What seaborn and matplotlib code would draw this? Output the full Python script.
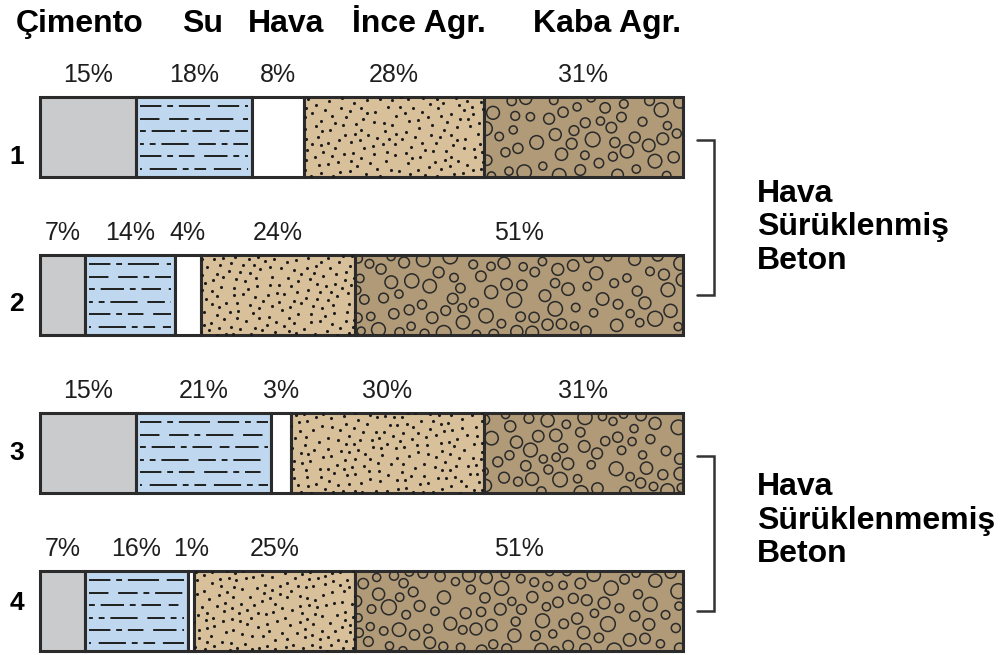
import numpy as np
import pandas as pd
import matplotlib
matplotlib.use("Agg")
import matplotlib.pyplot as plt
import seaborn as sns

# Mix proportions (% by volume) for four concrete mixes
rows = ["1", "2", "3", "4"]
components = ["Çimento", "Su", "Hava", "İnce Agr.", "Kaba Agr."]
cement = [15, 7, 15, 7]
water = [18, 14, 21, 16]
air = [8, 4, 3, 1]
fine_agg = [28, 24, 30, 25]
coarse_agg = [31, 51, 31, 51]
group_labels = ["Hava\nSürüklenmiş\nBeton", "Hava\nSürüklenmemiş\nBeton"]
group_rows = [(0, 1), (2, 3)]

sns.set_theme(style="white")
plt.rcParams["font.family"] = ["Liberation Sans", "DejaVu Sans"]

colors = ["#cacbcc", "#bfd8ef", "#ffffff", "#d8c09b", "#b09a77"]
edge = "#2b2b2b"
ink = "#1e1e1e"

series = [cement, water, air, fine_agg, coarse_agg]
df = pd.DataFrame({"row": rows, **{c: v for c, v in zip(components, series)}})

# scale: pixels per data unit on each axis
PX_X = 6.43
PX_Y = 158.0
ROW0 = 137.0

fig = plt.figure(figsize=(10, 6.55), dpi=100)
ax = fig.add_axes([0, 0, 1, 1])

bar_h = 0.506
left = np.zeros(len(rows))
for comp, col in zip(components, colors):
    sns.barplot(data=df, x=comp, y="row", orient="h", left=left.copy(),
                color=col, saturation=1, width=bar_h, edgecolor=edge,
                linewidth=2.2, ax=ax)
    left += df[comp].to_numpy()

fine_bars = ax.containers[3]
coarse_bars = ax.containers[4]


def halton(n, base, start=1):
    out = np.empty(n)
    for k in range(n):
        i, f, r = k + start, 1.0, 0.0
        while i > 0:
            f /= base
            r += f * (i % base)
            i //= base
        out[k] = r
    return out


def spaced_texture(patch, px_per_point, start, dmin, dmax, gap):
    """Low-discrepancy points inside a bar, thinned so marks do not touch."""
    x0, y0 = patch.get_x(), patch.get_y()
    w, h = patch.get_width(), patch.get_height()
    wp, hp = w * PX_X, h * PX_Y
    target = int(round(wp * hp / px_per_point))
    n = target * 6
    u, v, s = halton(n, 2, start), halton(n, 3, start), halton(n, 5, start)
    px, py = u * wp, v * hp
    d = dmin + (dmax - dmin) * s ** 1.4
    kx, ky, kd = [], [], []
    for a, b, c in zip(px, py, d):
        if kx:
            dist = np.hypot(np.array(kx) - a, np.array(ky) - b)
            if np.any(dist < (np.array(kd) + c) / 2 + gap):
                continue
        kx.append(a); ky.append(b); kd.append(c)
        if len(kx) >= target:
            break
    kx, ky, kd = map(np.array, (kx, ky, kd))
    return x0 + kx / PX_X, y0 + ky / PX_Y, kd


# sand: scattered fine dots
for j, patch in enumerate(fine_bars.patches):
    xs, ys, _ = spaced_texture(patch, 80, 17 + 311 * j, 2.6, 2.6, 4.5)
    sc = ax.scatter(xs, ys, s=5.0, color=ink, linewidths=0, zorder=3)
    sc.set_clip_path(patch)

# gravel: open circles of mixed size
for j, patch in enumerate(coarse_bars.patches):
    xs, ys, d = spaced_texture(patch, 230, 29 + 523 * j, 8.0, 15.0, 3.0)
    sc = ax.scatter(xs, ys, s=(0.72 * d) ** 2, facecolors="none",
                    edgecolors="#2a2a2a", linewidths=1.1, zorder=3)
    sc.set_clip_path(patch)

# dash-dot strokes suggesting water inside the water segments
dash_styles = [(0, (11, 3, 3, 3, 16, 4)), (4, (14, 5, 10, 3, 3, 3)),
               (2, (5, 3, 12, 3, 3, 3, 10, 4)), (7, (9, 3, 3, 3, 14, 5)),
               (1, (12, 3, 3, 3, 8, 5)), (5, (6, 4, 14, 3, 3, 3))]
for i, r in enumerate(rows):
    x0 = cement[i] + 0.6
    x1 = cement[i] + water[i] - 0.6
    for k, ls in enumerate(dash_styles):
        y = i - bar_h / 2 + bar_h * (k + 0.75) / 6.4
        ax.plot([x0, x1], [y, y], color=ink, lw=1.4, linestyle=ls,
                solid_capstyle="butt", dash_capstyle="butt", zorder=3)

# percentage labels above each segment
starts = np.cumsum([np.zeros(len(rows))] + series[:-1], axis=0)
for s, vals in zip(starts, series):
    for i, v in enumerate(vals):
        ax.text(s[i] + v / 2, i - bar_h / 2 - 0.14, f"{v}%",
                ha="center", va="center", fontsize=18, color=ink)

# row numbers
row_label_dy = [20, 9, 0, -8]
for i, r in enumerate(rows):
    ax.text(-3.6, i + row_label_dy[i] / PX_Y, r, ha="center", va="center",
            fontsize=19, fontweight="bold", color="black")

# column headers
header_x = [6.2, 25.3, 38.3, 58.9, 88.2]
for hx, name in zip(header_x, components):
    ax.text(hx, (32 - ROW0) / PX_Y, name, ha="center", va="baseline",
            fontsize=23, fontweight="bold", color="black")

# brackets grouping the mixes
label_dy = [0.07, -0.07]
for (a, b), label, dy in zip(group_rows, group_labels, label_dy):
    ax.plot([102.2, 104.8, 104.8, 102.2], [a + 0.02, a + 0.02, b, b],
            color="#333333", lw=1.8, solid_joinstyle="miter")
    ax.text(111.5, (a + b) / 2 + dy, label, ha="left", va="center",
            fontsize=23, fontweight="bold", color="black", linespacing=1.15)

ax.set_xlim(-40 / PX_X, 960 / PX_X)
ax.set_ylim((655 - ROW0) / PX_Y, -ROW0 / PX_Y)
ax.set_axis_off()

fig.savefig("out.png", dpi=100, facecolor="white")
